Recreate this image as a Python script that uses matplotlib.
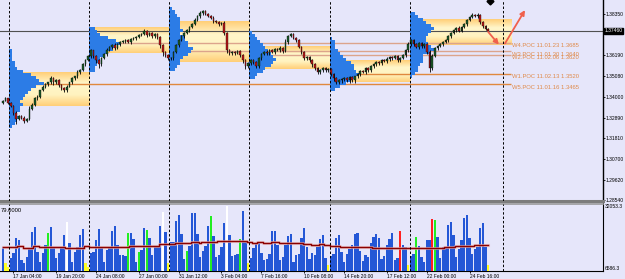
import matplotlib
matplotlib.use("Agg")
import matplotlib.pyplot as plt
import numpy as np
from matplotlib.colors import LinearSegmentedColormap

plt.rcParams["font.family"] = ["Liberation Sans", "DejaVu Sans"]

# ---------------- data ----------------
# H4 closes, one per bar (bars 0-2 are the tail of the previous week)
first_open = 1.3368
closes = [
    1.3379, 1.3390, 1.3368,
    1.3352, 1.3315, 1.3284, 1.3299, 1.3289, 1.3273, 1.3284, 1.3337, 1.3358, 1.3390,
    1.3400, 1.3432, 1.3453, 1.3464, 1.3475, 1.3496, 1.3475, 1.3485, 1.3459, 1.3443,
    1.3432, 1.3453, 1.3475, 1.3496, 1.3506, 1.3528, 1.3538, 1.3570, 1.3591, 1.3612,
    1.3644, 1.3612, 1.3591, 1.3570, 1.3602, 1.3623, 1.3644, 1.3660, 1.3671, 1.3655,
    1.3676, 1.3687, 1.3692, 1.3697, 1.3687, 1.3703, 1.3708, 1.3713, 1.3724, 1.3729,
    1.3745, 1.3724, 1.3734, 1.3718, 1.3729, 1.3713, 1.3671, 1.3634, 1.3618, 1.3602,
    1.3602, 1.3634, 1.3671, 1.3697, 1.3718, 1.3734, 1.3750, 1.3766, 1.3782, 1.3803,
    1.3824, 1.3840, 1.3851, 1.3835, 1.3824, 1.3814, 1.3798, 1.3793, 1.3782, 1.3787,
    1.3734, 1.3644, 1.3628, 1.3634, 1.3628, 1.3639, 1.3618, 1.3591, 1.3559, 1.3575,
    1.3591, 1.3581, 1.3559, 1.3602, 1.3623, 1.3634, 1.3628, 1.3644, 1.3634, 1.3650,
    1.3644, 1.3655, 1.3639, 1.3687, 1.3718, 1.3729, 1.3708, 1.3697, 1.3660, 1.3634,
    1.3602, 1.3607, 1.3591, 1.3570, 1.3549, 1.3528, 1.3538, 1.3549, 1.3538, 1.3543,
    1.3517, 1.3496, 1.3475, 1.3485, 1.3490, 1.3496, 1.3485, 1.3501, 1.3485, 1.3506,
    1.3517, 1.3533, 1.3528, 1.3549, 1.3538, 1.3559, 1.3570, 1.3581, 1.3575, 1.3591,
    1.3586, 1.3597, 1.3607, 1.3602, 1.3612, 1.3591, 1.3602, 1.3618, 1.3644, 1.3676,
    1.3697, 1.3676, 1.3660, 1.3681, 1.3665, 1.3676, 1.3634, 1.3549, 1.3612, 1.3655,
    1.3665, 1.3676, 1.3687, 1.3697, 1.3718, 1.3734, 1.3750, 1.3761, 1.3745, 1.3766,
    1.3782, 1.3803, 1.3819, 1.3830, 1.3824, 1.3830, 1.3793, 1.3771, 1.3756, 1.3746,
]
# wick sizes in pips above / below the candle body
wick_up = [
    4, 6, 3,
    5, 4, 8, 6, 3, 7, 5, 12, 6, 8, 10, 5, 9, 7, 4, 11, 6, 8, 5, 7, 9, 6, 4, 8, 5, 10, 6, 7, 5, 8,
    9, 4, 6, 5, 8, 7, 10, 6, 4, 12, 7, 5, 8, 6, 9, 5, 7, 4, 8, 6, 11, 5, 7, 9, 6, 8, 5, 7, 4, 6,
    8, 5, 7, 6, 9, 5, 8, 6, 7, 10, 6, 9, 8, 5, 7, 6, 9, 5, 8, 6, 12, 7, 5, 8, 6, 9, 5, 7, 6, 8,
    6, 8, 5, 9, 7, 6, 10, 5, 8, 6, 7, 9, 5, 14, 8, 6, 7, 5, 9, 6, 8, 5, 7, 6, 9, 5, 8, 6, 7, 5,
    7, 5, 8, 6, 9, 5, 7, 6, 8, 5, 9, 6, 7, 8, 5, 9, 6, 7, 5, 8, 6, 9, 5, 7, 6, 8, 5, 9, 7, 10,
    8, 6, 9, 5, 7, 6, 8, 9, 12, 7, 5, 8, 6, 9, 7, 5, 8, 6, 9, 7, 5, 8, 6, 10, 7, 9, 6, 8, 5, 7,
]
wick_dn = [
    5, 4, 7,
    8, 12, 27, 9, 6, 14, 8, 5, 9, 6, 7, 10, 5, 8, 6, 9, 12, 7, 10, 8, 6, 9, 5, 7, 8, 6, 9, 5, 7, 6,
    7, 10, 12, 21, 8, 6, 9, 5, 7, 8, 6, 9, 5, 7, 6, 8, 5, 9, 6, 7, 5, 8, 6, 9, 7, 10, 14, 18, 12, 9,
    10, 8, 6, 9, 5, 7, 6, 8, 5, 7, 6, 9, 8, 6, 7, 5, 8, 6, 9, 7, 10, 12, 9, 7, 8, 6, 10, 12, 14, 8,
    9, 7, 10, 6, 8, 5, 9, 7, 6, 8, 5, 7, 9, 6, 8, 5, 7, 9, 6, 8, 10, 7, 9, 12, 8, 10, 7, 6, 8, 7,
    9, 12, 10, 8, 11, 9, 7, 12, 8, 14, 7, 9, 6, 8, 10, 7, 6, 9, 8, 7, 6, 9, 7, 8, 6, 9, 7, 6, 8, 9,
    7, 9, 6, 8, 10, 7, 9, 21, 8, 6, 7, 5, 8, 6, 7, 9, 6, 8, 5, 7, 6, 8, 5, 7, 6, 8, 9, 7, 6, 5,
]

# tick volume, thousands
volume_k = [
    15.2, 8.6, 7.0, 10.7, 12.7, 18.9, 18.1, 9.9, 8.6, 11.1,
    14.8, 21.4, 23.4, 13.2, 9.1, 12.7, 16.0, 21.0, 23.4, 14.8,
    10.7, 12.7, 15.2, 20.1, 25.5, 16.9, 9.1, 13.2, 15.2, 20.1,
    22.6, 8.6, 7.0, 12.7, 13.2, 18.1, 22.6, 14.8, 9.1, 14.0,
    14.8, 21.8, 23.8, 16.0, 11.9, 11.9, 11.5, 21.0, 21.0, 18.5,
    9.1, 13.2, 14.0, 23.0, 22.2, 18.9, 11.9, 15.6, 15.2, 23.8,
    29.6, 21.4, 8.6, 17.3, 17.3, 25.9, 28.4, 20.6, 10.3, 13.6,
    15.6, 29.2, 29.2, 20.6, 11.2, 13.7, 15.6, 23.8, 27.9, 19.7,
    11.2, 11.9, 15.3, 25.1, 32.0, 20.1, 11.5, 11.9, 12.4, 18.5,
    30.1, 17.4, 8.6, 10.8, 14.7, 16.7, 17.0, 12.9, 9.9, 10.2,
    12.3, 21.8, 21.8, 16.0, 9.9, 11.2, 16.0, 19.7, 20.4, 9.2,
    11.9, 12.3, 18.8, 22.9, 15.1, 10.2, 12.6, 11.9, 15.3, 18.4,
    20.1, 10.6, 7.8, 11.5, 12.3, 18.8, 20.1, 13.3, 9.2, 12.3,
    14.3, 16.0, 20.4, 21.1, 13.7, 9.5, 11.9, 11.2, 16.7, 19.2,
    20.6, 18.8, 10.4, 11.5, 16.0, 18.4, 20.8, 9.9, 10.8, 21.8,
    16.0, 15.3, 7.8, 11.5, 12.3, 19.2, 15.6, 11.2, 8.9, 18.1,
    18.1, 26.6, 26.3, 19.5, 10.6, 15.1, 15.1, 24.2, 25.5, 20.1,
    11.2, 14.3, 18.1, 27.0, 28.4, 18.8, 12.3, 14.3, 15.1, 22.9,
    25.0, 15.1, 7.8,
]
volume_ma_k = [
    15.3, 15.3, 15.3, 15.3, 15.3, 15.3, 15.7, 15.7, 14.9, 14.8,
    14.7, 14.8, 15.6, 15.5, 15.4, 15.4, 15.3, 15.4, 15.4, 15.3,
    15.3, 15.2, 15.1, 15.1, 15.0, 15.0, 15.0, 15.0, 15.0, 15.0,
    15.0, 15.6, 15.5, 15.3, 15.3, 15.3, 15.3, 15.3, 15.3, 15.3,
    15.3, 15.3, 15.3, 15.3, 15.3, 15.3, 15.3, 15.3, 15.6, 15.6,
    15.6, 15.6, 15.6, 15.6, 15.6, 15.6, 15.6, 15.6, 15.6, 16.3,
    16.3, 16.3, 16.3, 16.5, 16.6, 16.7, 16.7, 16.8, 16.9, 17.0,
    17.0, 17.1, 17.1, 17.1, 17.0, 17.1, 17.2, 17.2, 17.3, 17.3,
    17.4, 17.5, 17.6, 17.8, 17.8, 17.8, 17.8, 17.8, 17.8, 17.8,
    17.8, 17.5, 17.3, 17.2, 17.0, 17.0, 17.1, 17.1, 17.0, 17.0,
    17.0, 17.1, 17.1, 17.1, 17.0, 17.0, 17.0, 17.0, 17.0, 17.0,
    17.0, 16.9, 16.8, 16.6, 16.5, 16.3, 16.0, 16.0, 16.1, 16.3,
    16.3, 16.1, 16.0, 15.8, 15.7, 15.6, 15.5, 15.4, 15.3, 15.3,
    15.3, 15.3, 15.3, 15.3, 15.3, 15.3, 15.3, 15.2, 15.1, 15.0,
    14.9, 14.9, 14.8, 14.8, 14.7, 14.7, 14.7, 14.7, 14.7, 14.7,
    14.7, 14.7, 14.7, 14.7, 14.7, 14.7, 14.7, 14.7, 14.7, 14.7,
    14.7, 14.7, 14.7, 14.8, 14.9, 15.0, 15.1, 15.2, 15.3, 15.4,
    15.5, 15.6, 15.6, 15.7, 15.7, 15.8, 15.8, 15.9, 15.9, 16.0,
    16.0, 16.0, 16.0,
]
green_bars = [17, 47, 51, 54, 69, 78, 89, 155, 162]
red_bars = [149, 161]
white_bars = [24, 60, 84]
yellow_bars = [1, 2, 31, 32, 62, 92, 122, 152, 182]

# weekly market profile
week_start = [3, 33, 63, 93, 123, 153]
period_seps = [2.5, 32.5, 62.5, 92.5, 122.5, 152.5, 187.5]
va_high = [1.3528, 1.3761, 1.3793, 1.3660, 1.3591, 1.3803]
va_low = [1.3352, 1.3628, 1.3581, 1.3543, 1.3475, 1.3671]
va_end = [32.5, 62.5, 92.5, 122.5, 152.5, 190.5]
profile_top = [1.3644, 1.3761, 1.3862, 1.3740, 1.3708, 1.3840]
profile_step = 0.0016
profile_counts = [
    [1, 1, 1, 1, 2, 2, 3, 5, 8, 10, 11, 13, 10, 8, 7, 6, 5, 4, 5, 4, 4, 3, 4, 3, 2, 1],
    [2, 3, 4, 7, 10, 12, 10, 9, 7, 6, 4, 4, 3, 2, 2],
    [1, 2, 3, 4, 4, 4, 4, 5, 4, 6, 6, 7, 7, 9, 8, 7, 5, 4, 4, 3, 2],
    [1, 2, 3, 4, 5, 6, 7, 8, 9, 10, 9, 8, 6, 5, 3, 2],
    [1, 2, 2, 2, 3, 4, 5, 6, 8, 9, 9, 10, 11, 10, 8, 6, 4, 2],
    [2, 3, 5, 6, 8, 9, 8, 7, 6, 6, 7, 8, 9, 8, 5, 5, 5, 4, 3, 3, 2, 1],
]
poc_names = ["W5", "W4", "W3", "W2", "W1"]
poc_dates = ["11.01.16", "11.01.23", "11.01.30", "11.02.06", "11.02.13"]
poc_price = [1.3465, 1.3685, 1.3640, 1.3620, 1.3520]
poc_week = [0, 1, 2, 3, 4]

current_price = 1.3746
price_ticks = [1.3835, 1.3619, 1.3508, 1.3400, 1.3289, 1.3181, 1.3070, 1.2962, 1.2854]
vol_ticks = [32053.3, 6586.3]
time_tick_bars = [4, 20, 35, 51, 66, 82, 97, 113, 128, 144, 159, 175]
time_tick_labels = ["17 Jan 04:00", "19 Jan 20:00", "24 Jan 08:00", "27 Jan 00:00",
                    "31 Jan 12:00", "3 Feb 04:00", "7 Feb 16:00", "10 Feb 08:00",
                    "14 Feb 20:00", "17 Feb 12:00", "22 Feb 00:00", "24 Feb 16:00"]
arrow_tail = [(182.0, 1.3741), (188.3, 1.3680)]
arrow_head = [(186.0, 1.3674), (195.8, 1.3856)]
peak_mark = (182.7, 1.3905)

# ---------------- drawing ----------------
BG = "#E6E6FA"
fig = plt.figure(figsize=(6.25, 2.79), dpi=100, facecolor=BG)
ax = fig.add_axes([0, 1 - 201 / 279, 603 / 625, 201 / 279], facecolor=BG)
axv = fig.add_axes([0, 1 - 271 / 279, 603 / 625, 67.5 / 279], facecolor=BG, sharex=ax)

n = len(closes)
x = np.arange(n)
c = np.array(closes)
o = np.array([first_open] + closes[:-1])
hi = np.maximum(o, c) + np.array(wick_up) * 0.0001
lo = np.minimum(o, c) - np.array(wick_dn) * 0.0001

# value areas with vertical gradient
va_cmap = LinearSegmentedColormap.from_list("va", ["#FFCF78", "#FFF3C0", "#FFF6CA", "#FFCF78"])
grad = np.linspace(0, 1, 64).reshape(-1, 1)
for k in range(len(week_start)):
    ax.imshow(grad, cmap=va_cmap, aspect="auto", origin="lower", zorder=1,
              extent=[week_start[k] - 0.5, va_end[k], va_low[k], va_high[k]])

# POC lines and labels
for i, name in enumerate(poc_names):
    lc = "#E0883E" if name in ("W5", "W1") else "#DCA48C"
    ax.hlines(poc_price[i], week_start[poc_week[i]] - 0.5, 190.5, color=lc, lw=1.0, zorder=2)
    ax.text(190.8, poc_price[i] - 0.0003, f"{name}.POC {poc_dates[i]} {poc_price[i]:.4f}",
            fontsize=4.2, color="#E08A4A", va="top", ha="left", zorder=6)

# volume profiles
for k in range(len(week_start)):
    counts = profile_counts[k]
    levels = profile_top[k] - profile_step * np.arange(len(counts))
    ax.barh(levels, counts, left=week_start[k] - 0.5, height=profile_step,
            color="#2C7CE6", edgecolor="none", zorder=3)

# current price line
ax.axhline(current_price, color="#505050", lw=0.8, zorder=2.5)

# candles
body_col = np.where(c >= o, "#1B5A28", "#B81818")
ax.vlines(x, lo, hi, color="black", lw=0.6, zorder=4)
ax.bar(x, np.maximum(np.abs(c - o), 0.0001), bottom=np.minimum(o, c), width=0.7,
       color=body_col, edgecolor="black", linewidth=0.25, zorder=4.5)

# arrows and marker
for (x0, y0), (x1, y1) in zip(arrow_tail, arrow_head):
    ax.annotate("", xy=(x1, y1), xytext=(x0, y0), zorder=7,
                arrowprops=dict(arrowstyle="-|>", color="#F0604C", lw=1.3,
                                mutation_scale=7, shrinkA=0, shrinkB=0))
ax.plot(*peak_mark, marker="D", color="black", ms=3.5, zorder=7)

# period separators
for s in period_seps:
    for a in (ax, axv):
        a.axvline(s, color="black", lw=0.7, ls=(0, (2.5, 2)), zorder=8)

ax.set_xlim(-1.05, 225.05)
ax.set_ylim(1.28492, 1.39092)

# price axis styling
ax.yaxis.tick_right()
ax.set_yticks(price_ticks)
ax.set_yticklabels([f"{t:.5f}" for t in price_ticks])
ax.tick_params(axis="y", length=1.5, width=0.6, pad=0.3, labelsize=3.6, colors="black")
ax.tick_params(axis="x", bottom=False, labelbottom=False)
for side in ("left", "top"):
    ax.spines[side].set_visible(False)
ax.spines["right"].set_linewidth(1.0)
ax.spines["bottom"].set_color("#7C7C7C")
ax.spines["bottom"].set_linewidth(2.2)
ax.annotate(f"{current_price:.5f}", xy=(1.0, current_price), xycoords=("axes fraction", "data"),
            xytext=(1.0, 0), textcoords="offset points", fontsize=3.6, color="white",
            va="center", ha="left", annotation_clip=False,
            bbox=dict(boxstyle="square,pad=0.12", fc="black", ec="black"))

# volume panel
vcol = ["#2457D6"] * n
for i in green_bars:
    vcol[i] = "#22EE22"
for i in red_bars:
    vcol[i] = "#FF2020"
for i in white_bars:
    vcol[i] = "#FFFFFF"
for i in yellow_bars:
    vcol[i] = "#FFFF20"
axv.bar(x, np.array(volume_k) - 5.35, bottom=5.35, width=0.8, color=vcol,
        edgecolor="none", zorder=3)
axv.plot(x, volume_ma_k, color="#E8B0B0", lw=2.2, alpha=0.7, zorder=4, drawstyle="steps-mid")
axv.plot(x, volume_ma_k, color="#8B0000", lw=1.0, zorder=5, drawstyle="steps-mid")
axv.set_ylim(5.35, 33.1)
axv.yaxis.tick_right()
axv.set_yticks([v / 1000 for v in vol_ticks])
axv.set_yticklabels([f"{v:.1f}" for v in vol_ticks])
axv.tick_params(axis="y", length=0, pad=1.0, labelsize=3.6)
axv.set_xticks(time_tick_bars)
axv.set_xticklabels(time_tick_labels)
axv.tick_params(axis="x", length=1.5, width=0.6, pad=0.4, labelsize=3.5)
for lab in axv.get_xticklabels():
    lab.set_ha("left")
axv.spines["left"].set_visible(False)
axv.spines["top"].set_color("#9A9A9A")
axv.spines["top"].set_linewidth(1.2)
axv.text(0.002, 0.93, "79.0000", transform=axv.transAxes, fontsize=4.2, va="top", ha="left")

fig.savefig("out.png", dpi=100, facecolor=BG)
